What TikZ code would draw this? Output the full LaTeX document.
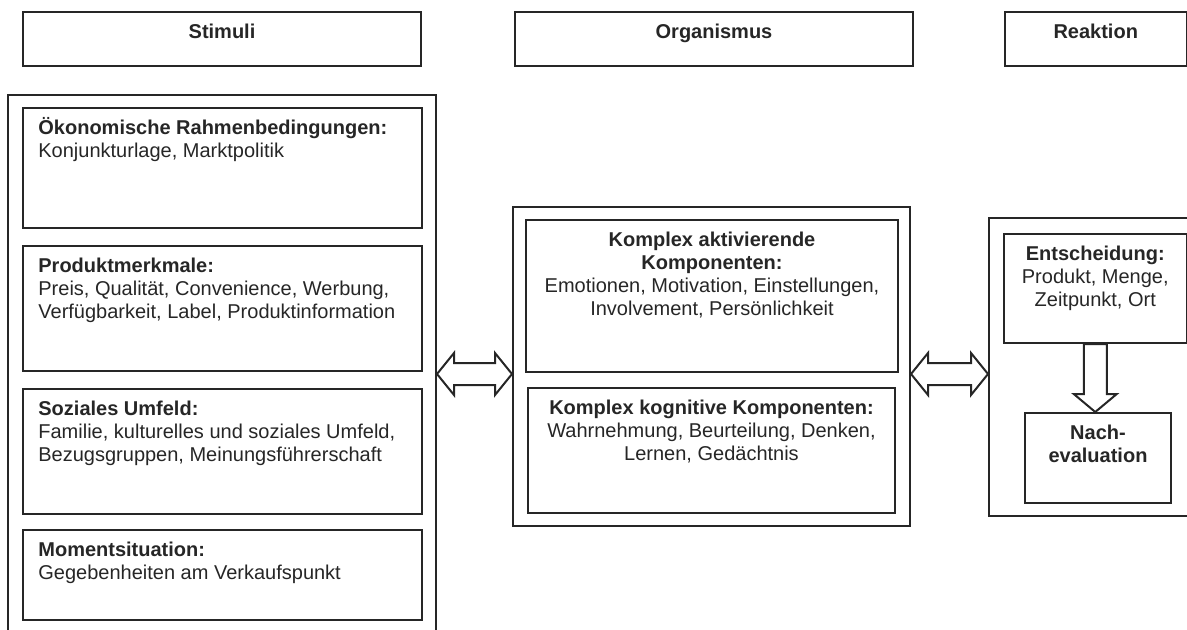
\documentclass[tikz,border=0pt]{standalone}
\usepackage{fontspec}
\setmainfont{Liberation Sans}
\usepackage{tikz}
\newcommand{\capstrut}{\rule{0pt}{10pt}}

\begin{document}
\begin{tikzpicture}[x=0.5pt,y=-0.5pt,
    every node/.style={font=\fontsize{10}{11.5}\selectfont, text=black!85},
    rahmen/.style={draw=black!85, line width=1pt, inner sep=0pt, anchor=north west},
    txtl/.style={inner sep=0pt, anchor=north west, align=left, xshift=8pt, yshift=-3.5pt},
    txtc/.style={inner sep=0pt, anchor=north, align=center, yshift=-3.5pt},
    blockpfeil/.style={draw=black!85, line width=1pt, fill=white, line join=miter}]
    \clip (0,0) rectangle (1187,630);

    % Kopfzeile
    \node[rahmen, minimum width=199pt, minimum height=27pt] (hstim) at (22,11) {};
    \node[rahmen, minimum width=199pt, minimum height=27pt] (horg) at (514,11) {};
    \node[rahmen, minimum width=90.75pt, minimum height=27pt] (hreak) at (1004,11) {};
    \node[txtc] (hstimt) at (hstim.north) {\capstrut\textbf{Stimuli}};
    \node[txtc] (horgt) at (horg.north) {\capstrut\textbf{Organismus}};
    \node[txtc] (hreakt) at (hreak.north) {\capstrut\textbf{Reaktion}};

    % Stimuli
    \node[rahmen, minimum width=214pt, minimum height=273pt] (stimaussen) at (7,94) {};
    \node[rahmen, minimum width=199.5pt, minimum height=60pt] (b1) at (22,107) {};
    \node[rahmen, minimum width=199.5pt, minimum height=62.5pt] (b2) at (22,245) {};
    \node[rahmen, minimum width=199.5pt, minimum height=62.5pt] (b3) at (22,388) {};
    \node[rahmen, minimum width=199.5pt, minimum height=45pt] (b4) at (22,529) {};
    \node[txtl] (b1t) at (b1.north west) {\capstrut\textbf{Ökonomische Rahmenbedingungen:}\\
        Konjunkturlage, Marktpolitik};
    \node[txtl] (b2t) at (b2.north west) {\capstrut\textbf{Produktmerkmale:}\\
        Preis, Qualität, Convenience, Werbung,\\ Verfügbarkeit, Label, Produktinformation};
    \node[txtl] (b3t) at (b3.north west) {\capstrut\textbf{Soziales Umfeld:}\\
        Familie, kulturelles und soziales Umfeld,\\ Bezugsgruppen, Meinungsführerschaft};
    \node[txtl] (b4t) at (b4.north west) {\capstrut\textbf{Momentsituation:}\\
        Gegebenheiten am Verkaufspunkt};

    % Organismus
    \node[rahmen, minimum width=198.5pt, minimum height=159.5pt] (orgaussen) at (512,206) {};
    \node[rahmen, minimum width=186pt, minimum height=76pt] (m1) at (525,219) {};
    \node[rahmen, minimum width=183.5pt, minimum height=62.5pt] (m2) at (527,387) {};
    \node[txtc] (m1t) at (m1.north) {\capstrut\textbf{Komplex aktivierende}\\ \textbf{Komponenten:}\\
        Emotionen, Motivation, Einstellungen,\\ Involvement, Persönlichkeit};
    \node[txtc] (m2t) at (m2.north) {\capstrut\textbf{Komplex kognitive Komponenten:}\\
        Wahrnehmung, Beurteilung, Denken,\\ Lernen, Gedächtnis};

    % Reaktion
    \node[rahmen, minimum width=106pt, minimum height=149pt] (reakaussen) at (988,217) {};
    \node[rahmen, minimum width=91.25pt, minimum height=54.5pt] (r1) at (1003,233) {};
    \node[rahmen, minimum width=73pt, minimum height=45pt] (r2) at (1024,412) {};
    \node[txtc] (r1t) at (r1.north) {\capstrut\textbf{Entscheidung:}\\ Produkt, Menge,\\ Zeitpunkt, Ort};
    \node[txtc] (r2t) at (r2.north) {\capstrut\textbf{Nach-}\\ \textbf{evaluation}};

    % Blockpfeile
    \coordinate (pfeily) at (0,374);
    \draw[blockpfeil] (stimaussen.east |- pfeily) -- ++(17,-21) -- ++(0,10) -- ++(41,0) -- ++(0,-10)
        -- (orgaussen.west |- pfeily) -- ++(-17,21) -- ++(0,-10) -- ++(-41,0) -- ++(0,10) -- cycle;
    \draw[blockpfeil] (orgaussen.east |- pfeily) -- ++(17,-21) -- ++(0,10) -- ++(43,0) -- ++(0,-10)
        -- (reakaussen.west |- pfeily) -- ++(-17,21) -- ++(0,-10) -- ++(-43,0) -- ++(0,10) -- cycle;
    \draw[blockpfeil] (r1.south |- r2.north) -- ++(-21.5,-18) -- ++(10,0) -- ++(0,-50) -- ++(23,0)
        -- ++(0,50) -- ++(10,0) -- cycle;
\end{tikzpicture}
\end{document}
